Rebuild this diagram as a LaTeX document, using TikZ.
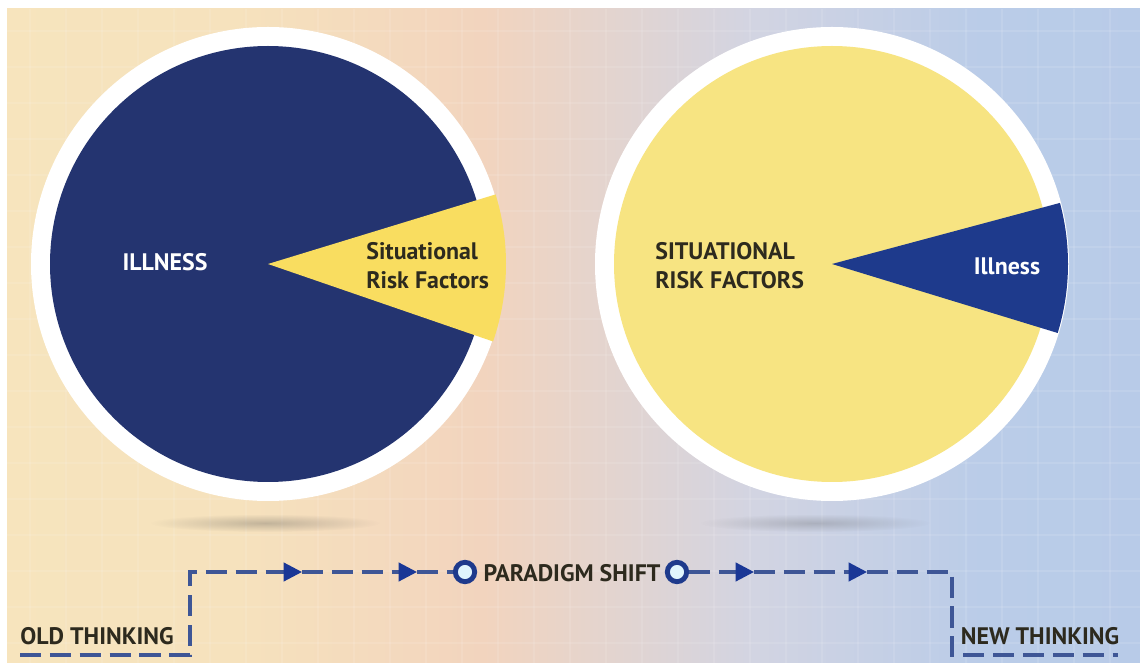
\documentclass[tikz,border=0pt]{standalone}
\usepackage{fontspec}
\setmainfont{PT Sans}
\usetikzlibrary{arrows.meta,positioning,fadings,calc}

\definecolor{navyL}{RGB}{36,52,112}
\definecolor{navyR}{RGB}{30,58,140}
\definecolor{wedgeY}{RGB}{249,221,96}
\definecolor{paleY}{RGB}{247,228,130}
\definecolor{lineblue}{RGB}{62,86,150}
\definecolor{tipblue}{RGB}{26,55,150}
\definecolor{textdark}{RGB}{45,42,30}
\definecolor{bgA}{RGB}{248,233,190}
\definecolor{bgB}{RGB}{246,226,189}
\definecolor{bgC}{RGB}{242,212,190}
\definecolor{bgD}{RGB}{210,212,226}
\definecolor{bgE}{RGB}{186,204,232}
\definecolor{bgF}{RGB}{178,201,232}

\pgfdeclarehorizontalshading{bgshade}{100bp}{color(0bp)=(bgA); color(35bp)=(bgB);
  color(46bp)=(bgC); color(58bp)=(bgD); color(68bp)=(bgE); color(100bp)=(bgF)}
\tikzfading[name=fuzzy, inner color=transparent!0, outer color=transparent!100]

\tikzset{
  label/.style={font=\bfseries\fontsize{13.6}{16.5}\selectfont, inner sep=0pt},
  flow/.style={draw=lineblue, line width=1.8pt, dash pattern=on 12pt off 5pt},
  tip/.style={-{Triangle[length=10.5pt,width=10.5pt]}, arrows={[color=tipblue]}},
  ring/.style={circle, draw=navyR, line width=2.8pt, fill=white!60!cyan!30, minimum size=11pt, inner sep=0pt}
}

\begin{document}
\begin{tikzpicture}[x=0.02cm,y=0.02cm]
  \useasboundingbox (0,0) rectangle (1140,663);
  \fill[white] (0,0) rectangle (1140,663);
  \shade[shading=bgshade] (7,0) rectangle (1140,654);
  % faint grid
  \begin{scope}[white, opacity=0.1, line width=1pt]
    \foreach \gx in {30,66,...,1140} \draw (\gx,0) -- (\gx,654);
    \foreach \gy in {20,56,...,654} \draw (7,\gy) -- (1140,\gy);
  \end{scope}

  % shadows
  \fill[black!70, opacity=0.3, path fading=fuzzy] (265,140) ellipse (115 and 9);
  \fill[black!70, opacity=0.25, path fading=fuzzy] (815,140) ellipse (115 and 9);

  % old pie
  \coordinate (c1) at (268,399);
  \fill[white] (c1) circle (237);
  \fill[navyL] (c1) circle (218);
  \fill[wedgeY] (c1) -- ++(-19:238) arc (-19:17:238) -- cycle;

  % new pie
  \coordinate (c2) at (832,399);
  \fill[white] (c2) circle (237);
  \fill[paleY] (c2) circle (218);
  \fill[navyR] (c2) -- ++(-17:236) arc (-17:15:236) -- cycle;

  \node[label, white] (ill1) at (165,401) {ILLNESS};
  \node[label, textdark, anchor=west, align=left] (risk1) at (366,397) {Situational\\Risk Factors};
  \node[label, textdark, anchor=west, align=left] (risk2) at (655,397) {SITUATIONAL\\RISK FACTORS};
  \node[label, white] (ill2) at (1007,397) {Illness};

  % shift line
  \node[label, textdark] (old) at (97,27) {OLD THINKING};
  \node[label, textdark] (new) at (1040,27) {NEW THINKING};
  \node[label, textdark] (shift) at (572,90) {PARADIGM SHIFT};
  \node[ring] (r1) at (465,91) {};
  \node[ring] (r2) at (677,91) {};

  \coordinate (o1) at (20,8);
  \coordinate (o2) at (190,8);
  \coordinate (o3) at (190,91);
  \coordinate (a1) at (302,91);
  \coordinate (a2) at (417,91);
  \coordinate (a3) at (754,91);
  \coordinate (a4) at (867,91);
  \coordinate (n1) at (952,91);
  \coordinate (n2) at (952,8);
  \coordinate (n3) at (1118,8);

  \draw[flow, tip] (o1) -- (o2) -- (o3) -- (a1);
  \draw[flow, tip] (a1) -- (a2);
  \draw[flow] (a2) -- (r1);
  \draw[flow, tip] (r2) -- (a3);
  \draw[flow, tip] (a3) -- (a4);
  \draw[flow] (a4) -- (n1) -- (n2) -- (n3);
\end{tikzpicture}
\end{document}
